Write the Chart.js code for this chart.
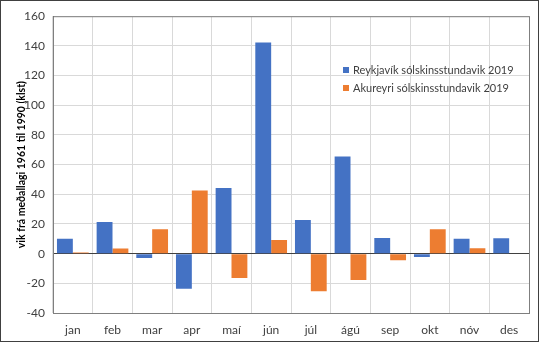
<!DOCTYPE html>
<html>
<head>
<meta charset="utf-8">
<script src="https://cdn.jsdelivr.net/npm/chart.js@4"></script>
<style>
  body { margin: 0; background: #fff; }
  #wrap { width: 539px; height: 342px; border: 1px solid #404040; box-sizing: border-box; }
</style>
</head>
<body>
<div id="wrap"><canvas id="sunChart" width="537" height="340"></canvas></div>
<script>
const months = ['jan', 'feb', 'mar', 'apr', 'maí', 'jún', 'júl', 'ágú', 'sep', 'okt', 'nóv', 'des'];
const reykjavik = [10.1, 21.4, -2.9, -23.6, 44.3, 142.3, 22.7, 65.5, 10.5, -2.3, 10.1, 10.3];
const akureyri = [0.8, 3.5, 16.5, 42.6, -16.4, 9.2, -25.4, -17.7, -4.4, 16.5, 3.7, null];
const yTitle = 'vik frá meðallagi 1961 til 1990 (klst)';

const FONT = 'Lato, "Open Sans", sans-serif';
const TXT = '#404040';

// legend drawn inside the plot area, top right
const innerLegend = {
    id: 'innerLegend',
    afterDraw(chart) {
        const ctx = chart.ctx;
        ctx.save();
        ctx.font = '11px ' + FONT;
        ctx.textBaseline = 'middle';
        chart.data.datasets.forEach((ds, i) => {
            const y = 69 + i * 18;
            ctx.fillStyle = ds.backgroundColor;
            ctx.fillRect(342, y - 3, 6, 6);
            ctx.fillStyle = TXT;
            ctx.fillText(ds.label, 352, y);
        });
        ctx.restore();
    }
};

// frame around plot area
const plotFrame = {
    id: 'plotFrame',
    beforeDatasetsDraw(chart) {
        const a = chart.chartArea;
        const ctx = chart.ctx;
        ctx.save();
        ctx.strokeStyle = '#7f7f7f';
        ctx.lineWidth = 1;
        ctx.strokeRect(a.left + 0.5, a.top + 0.5, a.right - a.left, a.bottom - a.top);
        ctx.restore();
    }
};

new Chart(document.getElementById('sunChart').getContext('2d'), {
    type: 'bar',
    data: {
        labels: months,
        datasets: [{
            label: 'Reykjavík sólskinsstundavik 2019',
            data: reykjavik,
            backgroundColor: '#4472C4'
        }, {
            label: 'Akureyri sólskinsstundavik 2019',
            data: akureyri,
            backgroundColor: '#ED7D31'
        }]
    },
    options: {
        responsive: false,
        animation: false,
        layout: { padding: { left: 0, top: 10, right: 9, bottom: 0 } },
        datasets: { bar: { categoryPercentage: 0.8, barPercentage: 1 } },
        plugins: {
            legend: { display: false },
            tooltip: { enabled: false }
        },
        scales: {
            x: {
                grid: { color: '#d9d9d9', drawTicks: false },
                border: { color: '#404040' },
                ticks: { color: TXT, font: { family: FONT, size: 12 }, padding: 10 },
                afterFit(s) { s.height = 28; }
            },
            y: {
                min: -40,
                max: 160,
                ticks: { stepSize: 20, color: TXT, font: { family: FONT, size: 12 }, padding: 8 },
                grid: {
                    drawTicks: false,
                    color: c => c.tick && c.tick.value === 0 ? '#404040' : '#d9d9d9'
                },
                border: { color: '#404040' },
                title: {
                    display: true,
                    text: yTitle,
                    color: '#000',
                    font: { family: FONT, size: 10.5, weight: 'bold' },
                    padding: { top: 14, bottom: 0 }
                },
                afterFit(s) { s.width = 52; }
            }
        }
    },
    plugins: [plotFrame, innerLegend]
});
</script>
</body>
</html>
